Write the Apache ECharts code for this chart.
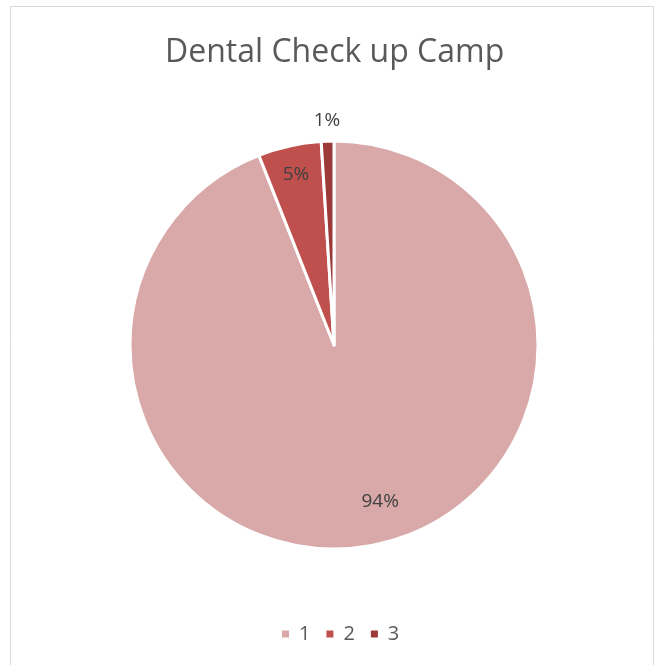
<!DOCTYPE html>
<html><head><meta charset="utf-8">
<script src="https://cdn.jsdelivr.net/npm/echarts@6/dist/echarts.min.js"></script>
<style>html,body{margin:0;padding:0;background:#fff}#c{width:659px;height:665px}</style>
</head><body><div id="c"></div>
<script>
const categories = ['1', '2', '3'];
const values = [94, 5, 1];
const colors = ['#D9A8A8', '#C0504D', '#9C3A38'];

const chart = echarts.init(document.getElementById('c'));
const font = 'Open Sans';
const R = 204;
const center = [334, 345];
function dataFor(showIdx, visible) {
  return categories.map((n, i) => ({
    name: n, value: values[i],
    itemStyle: visible ? { color: colors[i] } : { color: 'rgba(0,0,0,0)', borderWidth: 0 },
    label: { show: showIdx === i }
  }));
}
function labelSeries(idx, r0, r1, shift) {
  return {
    type: 'pie', center: center, radius: [r0, r1], startAngle: 90, clockwise: true,
    silent: true, z: 5, legendHoverLink: false, avoidLabelOverlap: false,
    label: { position: 'inside', formatter: p => p.value + '%', color: '#404040', fontFamily: font, fontSize: 19 },
    labelLine: { show: false },
    labelLayout: shift || {},
    emphasis: { disabled: true },
    data: dataFor(idx, false)
  };
}
chart.setOption({
  animation: false,
  title: {
    text: 'Dental Check up Camp', left: 160, top: 32,
    textStyle: { fontFamily: font, fontSize: 32, fontWeight: 'normal', color: '#595959' }
  },
  legend: {
    bottom: 16, left: 275, icon: 'rect', itemWidth: 9, itemHeight: 9, itemGap: 14,
    textStyle: { fontFamily: font, fontSize: 20, color: '#595959', padding: [0, 0, 0, 4] },
    data: categories
  },
  graphic: [{ type: 'rect', shape: { x: 10.5, y: 6.5, width: 643, height: 700 },
    style: { fill: 'none', stroke: '#D9D9D9', lineWidth: 1 }, silent: true, z: -1 }],
  series: [
    {
      type: 'pie', center: center, radius: [0, R], startAngle: 90, clockwise: true,
      itemStyle: { borderColor: '#fff', borderWidth: 3 },
      label: { show: false }, labelLine: { show: false },
      emphasis: { disabled: true },
      data: dataFor(-1, true)
    },
    labelSeries(0, R * 0.6, R, { dx: 15, dy: -7 }),
    labelSeries(1, R * 0.68, R),
    labelSeries(2, R, R * 1.17)
  ]
});
</script></body></html>
